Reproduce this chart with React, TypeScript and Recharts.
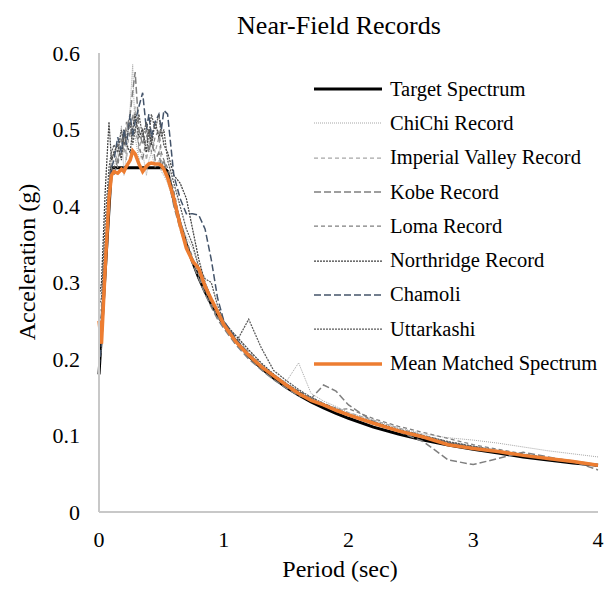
import { LineChart, Line, XAxis, YAxis, Label } from "recharts";

const FONT = "'Liberation Serif', 'Times New Roman', serif";

// period (sec)
const periods = [
  0, 0.02, 0.05, 0.08, 0.1, 0.12, 0.15, 0.18, 0.2, 0.22, 0.25, 0.27, 0.29, 0.32, 0.35, 0.38, 0.4, 0.42,
  0.45, 0.48, 0.5, 0.52, 0.55, 0.6, 0.65, 0.7, 0.75, 0.8, 0.85, 0.9, 0.95, 1.0, 1.1, 1.2, 1.3, 1.4, 1.5,
  1.6, 1.7, 1.8, 1.9, 2.0, 2.2, 2.4, 2.6, 2.8, 3.0, 3.2, 3.4, 3.6, 3.8, 4.0,
];

const target = [
  0.18, 0.234, 0.315, 0.396, 0.45, 0.45, 0.45, 0.45, 0.45, 0.45, 0.45, 0.45, 0.45, 0.45, 0.45, 0.45, 0.45, 0.45,
  0.45, 0.45, 0.45, 0.45, 0.445, 0.408, 0.377, 0.35, 0.327, 0.306, 0.288, 0.272, 0.258, 0.245, 0.223, 0.204, 0.188, 0.175, 0.163,
  0.153, 0.144, 0.136, 0.129, 0.1225, 0.111, 0.102, 0.094, 0.0875, 0.082, 0.077, 0.072, 0.068, 0.064, 0.061,
];

const chichi = [
  0.2, 0.21, 0.3, 0.41, 0.44, 0.45, 0.47, 0.505, 0.44, 0.47, 0.53, 0.585, 0.49, 0.46, 0.47, 0.44, 0.46, 0.47,
  0.45, 0.46, 0.445, 0.44, 0.43, 0.405, 0.38, 0.36, 0.345, 0.32, 0.3, 0.28, 0.262, 0.245, 0.225, 0.205, 0.19, 0.178, 0.17,
  0.195, 0.155, 0.145, 0.138, 0.13, 0.12, 0.11, 0.102, 0.097, 0.094, 0.09, 0.085, 0.08, 0.076, 0.072,
];

const imperial = [
  0.22, 0.24, 0.33, 0.42, 0.455, 0.47, 0.46, 0.48, 0.5, 0.46, 0.51, 0.5, 0.53, 0.47, 0.5, 0.46, 0.48, 0.5,
  0.47, 0.49, 0.46, 0.45, 0.44, 0.41, 0.375, 0.35, 0.33, 0.31, 0.29, 0.275, 0.26, 0.248, 0.228, 0.21, 0.193, 0.18, 0.168,
  0.158, 0.15, 0.142, 0.136, 0.13, 0.12, 0.11, 0.1, 0.092, 0.086, 0.08, 0.075, 0.07, 0.066, 0.062,
];

const kobe = [
  0.24, 0.26, 0.34, 0.43, 0.45, 0.44, 0.46, 0.47, 0.49, 0.5, 0.52, 0.55, 0.575, 0.5, 0.48, 0.5, 0.47, 0.49,
  0.46, 0.47, 0.45, 0.46, 0.44, 0.4, 0.37, 0.345, 0.325, 0.305, 0.285, 0.268, 0.252, 0.24, 0.218, 0.2, 0.186, 0.173, 0.162,
  0.152, 0.148, 0.166, 0.158, 0.14, 0.118, 0.105, 0.092, 0.068, 0.062, 0.07, 0.078, 0.072, 0.066, 0.055,
];

const loma = [
  0.26, 0.27, 0.35, 0.43, 0.46, 0.47, 0.45, 0.49, 0.47, 0.51, 0.49, 0.52, 0.5, 0.48, 0.46, 0.49, 0.5, 0.47,
  0.49, 0.5, 0.47, 0.46, 0.45, 0.42, 0.38, 0.355, 0.333, 0.312, 0.292, 0.272, 0.255, 0.242, 0.222, 0.208, 0.192, 0.178, 0.165,
  0.156, 0.147, 0.14, 0.134, 0.135, 0.122, 0.112, 0.104, 0.096, 0.088, 0.082, 0.076, 0.071, 0.067, 0.062,
];

const northridge = [
  0.28, 0.3, 0.42, 0.51, 0.46, 0.47, 0.48, 0.46, 0.5, 0.48, 0.47, 0.5, 0.52, 0.49, 0.5, 0.47, 0.5, 0.48,
  0.51, 0.49, 0.5, 0.48, 0.47, 0.44, 0.43, 0.41, 0.37, 0.33, 0.3, 0.28, 0.262, 0.248, 0.23, 0.212, 0.195, 0.18, 0.168,
  0.158, 0.148, 0.14, 0.133, 0.127, 0.117, 0.107, 0.099, 0.091, 0.085, 0.079, 0.074, 0.07, 0.066, 0.06,
];

const chamoli = [
  0.19, 0.22, 0.33, 0.42, 0.45, 0.46, 0.49, 0.47, 0.5, 0.48, 0.52, 0.49, 0.51, 0.53, 0.548, 0.5, 0.52, 0.49,
  0.51, 0.52, 0.5, 0.525, 0.52, 0.44, 0.41, 0.39, 0.39, 0.388, 0.37, 0.33, 0.28, 0.25, 0.226, 0.207, 0.19, 0.178, 0.166,
  0.156, 0.147, 0.14, 0.132, 0.126, 0.115, 0.106, 0.098, 0.09, 0.084, 0.079, 0.074, 0.069, 0.065, 0.06,
];

const uttarkashi = [
  0.27, 0.28, 0.38, 0.45, 0.47, 0.48, 0.47, 0.5, 0.48, 0.49, 0.51, 0.48, 0.5, 0.52, 0.49, 0.51, 0.49, 0.52,
  0.5, 0.52, 0.49, 0.5, 0.46, 0.43, 0.4, 0.37, 0.35, 0.32, 0.305, 0.3, 0.27, 0.25, 0.222, 0.252, 0.215, 0.185, 0.172,
  0.16, 0.15, 0.142, 0.135, 0.128, 0.118, 0.108, 0.1, 0.092, 0.086, 0.08, 0.075, 0.07, 0.066, 0.06,
];

const meanMatched = [
  0.25, 0.22, 0.32, 0.41, 0.44, 0.445, 0.443, 0.448, 0.445, 0.452, 0.46, 0.472, 0.468, 0.455, 0.445, 0.452, 0.455, 0.456,
  0.455, 0.455, 0.453, 0.448, 0.437, 0.41, 0.375, 0.345, 0.328, 0.318, 0.295, 0.278, 0.262, 0.245, 0.222, 0.205, 0.19, 0.178, 0.166,
  0.155, 0.146, 0.14, 0.133, 0.127, 0.116, 0.106, 0.098, 0.088, 0.083, 0.079, 0.074, 0.07, 0.066, 0.061,
];

const xTicks = [0, 1, 2, 3, 4];
const yTicks = [0, 0.1, 0.2, 0.3, 0.4, 0.5, 0.6];

const series = [
  { key: "target", name: "Target Spectrum", values: target, color: "#000000", width: 3, dash: undefined },
  { key: "chichi", name: "ChiChi Record", values: chichi, color: "#A6A6A6", width: 1, dash: "1 1" },
  { key: "imperial", name: "Imperial Valley Record", values: imperial, color: "#A6A6A6", width: 1.25, dash: "4 3" },
  { key: "kobe", name: "Kobe Record", values: kobe, color: "#7F7F7F", width: 1.5, dash: "7 3" },
  { key: "loma", name: "Loma Record", values: loma, color: "#7F7F7F", width: 1.25, dash: "4 3" },
  { key: "northridge", name: "Northridge Record", values: northridge, color: "#404040", width: 1.25, dash: "2 1" },
  { key: "chamoli", name: "Chamoli", values: chamoli, color: "#44546A", width: 1.5, dash: "7 3" },
  { key: "uttarkashi", name: "Uttarkashi", values: uttarkashi, color: "#595959", width: 1.25, dash: "2 1" },
  { key: "mean", name: "Mean Matched Spectrum", values: meanMatched, color: "#ED7D31", width: 3.5, dash: undefined },
];

const data = periods.map((t, i) => {
  const row: Record<string, number> = { t };
  series.forEach((s) => {
    row[s.key] = s.values[i];
  });
  return row;
});

function LegendBox() {
  return (
    <div
      style={{
        position: "absolute",
        left: 313,
        top: 72,
        fontFamily: FONT,
        fontSize: 20.5,
        color: "#000",
      }}
    >
      {series.map((s) => (
        <div key={s.key} style={{ display: "flex", alignItems: "center", height: 34.3 }}>
          <svg width={70} height={10} style={{ marginRight: 7 }}>
            <line
              x1={1}
              y1={5}
              x2={69}
              y2={5}
              stroke={s.color}
              strokeWidth={s.width}
              strokeDasharray={s.dash}
            />
          </svg>
          <span style={{ whiteSpace: "nowrap" }}>{s.name}</span>
        </div>
      ))}
    </div>
  );
}

export default function App() {
  return (
    <div style={{ position: "absolute", left: 0, top: 0, width: 606, height: 589, background: "#fff" }}>
      <LineChart
        width={606}
        height={589}
        data={data}
        margin={{ top: 53, right: 8, left: 0, bottom: 0 }}
      >
        <XAxis
          dataKey="t"
          type="number"
          domain={[0, 4]}
          ticks={xTicks}
          tickLine={false}
          axisLine={{ stroke: "#C8C8C8", strokeWidth: 2 }}
          tick={{ fill: "#000", fontSize: 22, fontFamily: FONT }}
          tickMargin={13}
          height={77}
        >
          <Label
            content={() => (
              <text x={340} y={577} textAnchor="middle" fontFamily={FONT} fontSize={24} fill="#000">
                Period (sec)
              </text>
            )}
          />
        </XAxis>
        <YAxis
          type="number"
          domain={[0, 0.6]}
          ticks={yTicks}
          tickLine={false}
          axisLine={{ stroke: "#C8C8C8", strokeWidth: 2 }}
          tick={{ fill: "#000", fontSize: 22, fontFamily: FONT }}
          tickMargin={13}
          width={99}
        >
          <Label
            content={() => (
              <text
                x={27}
                y={262}
                transform="rotate(-90, 27, 262)"
                dominantBaseline="central"
                textAnchor="middle"
                fontFamily={FONT}
                fontSize={24}
                fill="#000"
              >
                Acceleration (g)
              </text>
            )}
          />
        </YAxis>
        {series.map((s) => (
          <Line
            key={s.key}
            dataKey={s.key}
            name={s.name}
            type="linear"
            stroke={s.color}
            strokeWidth={s.width}
            strokeDasharray={s.dash}
            dot={false}
            activeDot={false}
            isAnimationActive={false}
          />
        ))}
        <text x={339} y={34} textAnchor="middle" fontFamily={FONT} fontSize={26} fill="#000">
          Near-Field Records
        </text>
      </LineChart>
      <LegendBox />
    </div>
  );
}
